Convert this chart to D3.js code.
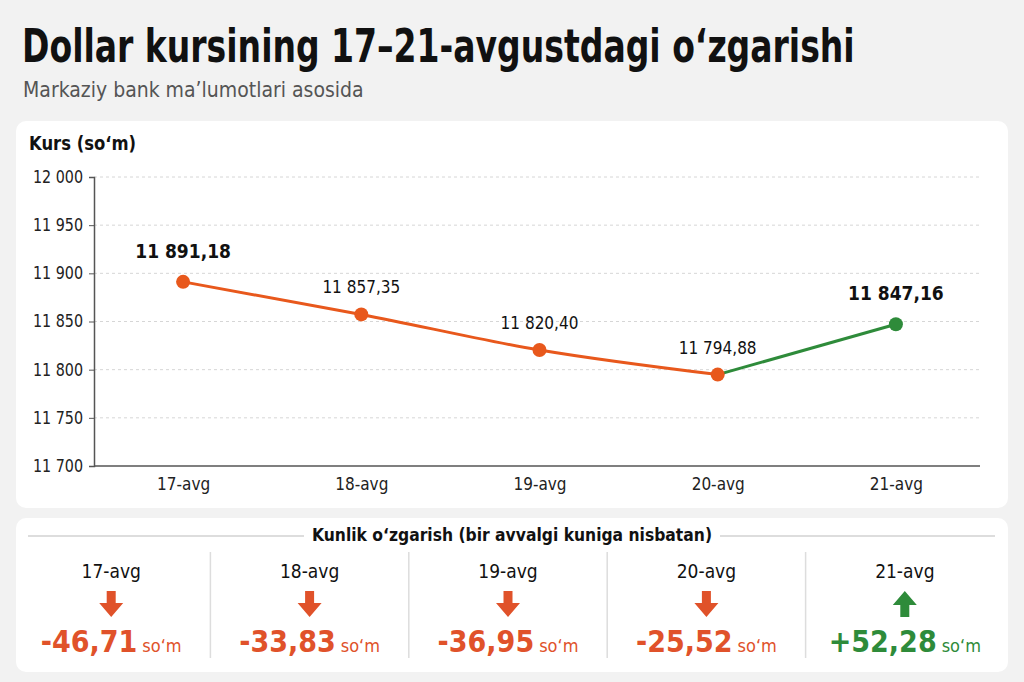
<!DOCTYPE html>
<html><head><meta charset="utf-8">
<script src="https://cdn.jsdelivr.net/npm/d3@7"></script>
<style>
html,body{margin:0;padding:0;background:#f2f2f2;}
svg{display:block;}
text{font-family:"DejaVu Sans Condensed","DejaVu Sans",sans-serif;font-stretch:condensed;}
</style></head>
<body>
<svg id="c" width="1024" height="682"></svg>
<script>
const days = ["17-avg","18-avg","19-avg","20-avg","21-avg"];
const rates = [11891.18, 11857.35, 11820.40, 11794.88, 11847.16];
const changes = [-46.71, -33.83, -36.95, -25.52, 52.28];
const yTicks = [11700, 11750, 11800, 11850, 11900, 11950, 12000];
const titleText = "Dollar kursining 17–21-avgustdagi o‘zgarishi";
const subtitleText = "Markaziy bank ma’lumotlari asosida";
const yLabel = "Kurs (so‘m)";
const panelTitle = "Kunlik o‘zgarish (bir avvalgi kuniga nisbatan)";
const unit = "so‘m";

const ORANGE = "#e8581c", GREEN = "#2e8b3a", RED = "#e0522a";
const loc = d3.formatLocale({decimal:",", thousands:"\u2009", grouping:[3]});
const fInt = loc.format(",d"), fDec = loc.format(",.2f"), fChg = loc.format("+.2f");
const fTick = v => fInt(v).replace("\u2009"," ");
const fRate = v => fDec(v).replace("\u2009"," ");
function fit(sel, w){ const n=sel.node(); if(n.getComputedTextLength()>w) sel.attr("textLength",w).attr("lengthAdjust","spacingAndGlyphs"); }
function squeeze(x0, y0, w, build){
  const gg = svg.append("g");
  const tx = build(gg);
  const nat = tx.node().getComputedTextLength();
  gg.attr("transform",`translate(${x0},${y0}) scale(${Math.min(1,w/nat)},1)`);
  return tx;
}

const svg = d3.select("#c");
squeeze(22, 62, 833, gg => gg.append("text").attr("font-size",46).attr("font-weight",700)
  .attr("fill","#111").text(titleText));
squeeze(23, 97, 377, gg => gg.append("text").attr("font-size",21).attr("fill","#555").text(subtitleText));

// cards
svg.append("rect").attr("x",16).attr("y",121).attr("width",992).attr("height",387).attr("rx",10).attr("fill","#fff");
svg.append("rect").attr("x",16).attr("y",518).attr("width",992).attr("height",154).attr("rx",10).attr("fill","#fff");

const yl = svg.append("text").attr("x",29).attr("y",150).attr("font-size",19).attr("font-weight",700).attr("fill","#111").text(yLabel);
fit(yl, 107);

const x = d3.scalePoint().domain(days).range([94,985]).padding(0.5);
const y = d3.scaleLinear().domain([11700,12000]).range([466,177]);

const g = svg.append("g");
g.selectAll("line.grid").data(yTicks.slice(1)).join("line")
  .attr("x1",94).attr("x2",980).attr("y1",d=>y(d)).attr("y2",d=>y(d))
  .attr("stroke","#d6d6d6").attr("stroke-dasharray","3,3").attr("stroke-width",1);
const ya = g.append("g").attr("transform","translate(94,0)")
  .call(d3.axisLeft(y).tickValues(yTicks).tickFormat(fTick).tickSize(5).tickPadding(6));
ya.select(".domain").attr("stroke","#555").attr("stroke-width",1.5);
ya.selectAll(".tick line").attr("stroke","#555");
ya.selectAll("text").attr("font-size",17).attr("fill","#222").attr("font-family",null)
  .each(function(){ fit(d3.select(this), 50); });
const xa = g.append("g").attr("transform","translate(0,466)")
  .call(d3.axisBottom(x).tickSize(0).tickPadding(12));
xa.select(".domain").attr("d","M94,0H980").attr("stroke","#555").attr("stroke-width",1.5);
xa.selectAll("text").attr("font-size",17).attr("fill","#222").attr("font-family",null);

const pts = days.map((d,i)=>({d, v:rates[i], i}));
const line = d3.line().x(p=>x(p.d)).y(p=>y(p.v)).curve(d3.curveMonotoneX);
g.append("path").datum(pts.slice(0,4)).attr("d",line).attr("fill","none").attr("stroke",ORANGE).attr("stroke-width",3);
g.append("path").datum(pts.slice(3)).attr("d",line).attr("fill","none").attr("stroke",GREEN).attr("stroke-width",3);
g.selectAll("circle.pt").data(pts).join("circle")
  .attr("cx",p=>x(p.d)).attr("cy",p=>y(p.v)).attr("r",7)
  .attr("fill",p=>p.i===4?GREEN:ORANGE);
const big = p => p.i===0||p.i===4;
g.selectAll("text.lbl").data(pts).join("text")
  .attr("x",p=>x(p.d)).attr("y",p=>y(p.v)-(big(p)?24:21))
  .attr("text-anchor","middle")
  .attr("font-size",p=>big(p)?19:17)
  .attr("font-weight",p=>big(p)?700:400)
  .attr("fill","#111").text(p=>fRate(p.v));

// bottom panel
const pt = svg.append("text").attr("x",512).attr("y",541).attr("text-anchor","middle")
  .attr("font-size",18).attr("font-weight",700).attr("fill","#111").text(panelTitle);
fit(pt, 400);
const bb = pt.node().getBBox();
svg.append("line").attr("x1",28).attr("x2",bb.x-8).attr("y1",536).attr("y2",536).attr("stroke","#bbb");
svg.append("line").attr("x1",bb.x+bb.width+8).attr("x2",995).attr("y1",536).attr("y2",536).attr("stroke","#bbb");

const bx = d3.scaleBand().domain(days).range([12,1004]);
svg.selectAll("line.div").data(days.slice(1)).join("line")
  .attr("x1",d=>bx(d)).attr("x2",d=>bx(d)).attr("y1",552).attr("y2",658)
  .attr("stroke","#ddd").attr("stroke-width",1.5);
const cells = svg.selectAll("g.cell").data(days.map((d,i)=>({d,c:changes[i]}))).join("g")
  .attr("transform",o=>`translate(${bx(o.d)+bx.bandwidth()/2},0)`);
cells.append("text").attr("y",578).attr("text-anchor","middle").attr("font-size",19).attr("fill","#111").text(o=>o.d);
const arrowDown = "M-4.5,-13 H4.5 V-1 H12 L0,13 L-12,-1 H-4.5 Z";
cells.append("path")
  .attr("d",arrowDown).attr("transform",o=>`translate(0,604) scale(1,${o.c<0?1:-1})`)
  .attr("fill",o=>o.c<0?RED:GREEN);
const vt = cells.append("text").attr("y",652).attr("text-anchor","middle").attr("fill",o=>o.c<0?RED:GREEN);
vt.append("tspan").attr("font-size",30).attr("font-weight",700).text(o=>fChg(o.c).replace(".",",").replace("−","-"));
vt.append("tspan").attr("font-size",18).attr("dx",5).text(unit);
</script>
</body></html>
